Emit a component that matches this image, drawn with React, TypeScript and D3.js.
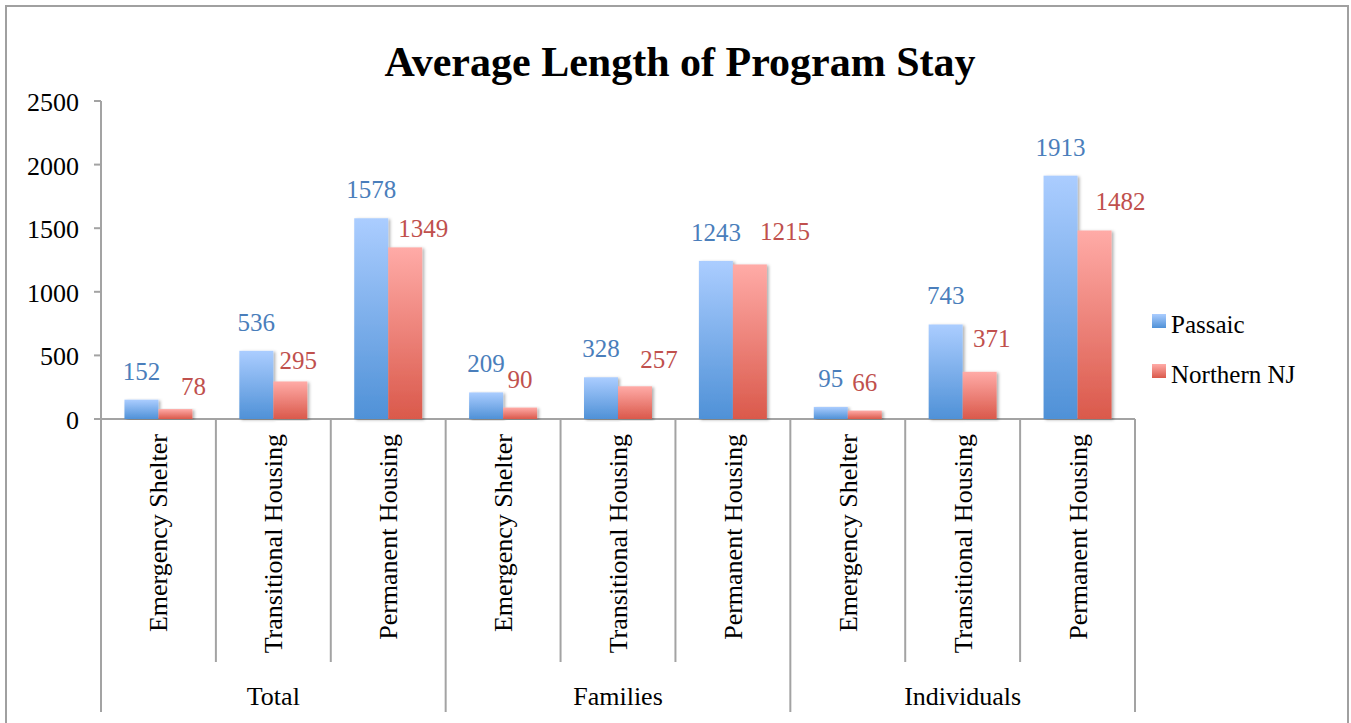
import React from "react";
import * as d3 from "d3";

const groups = ["Total", "Families", "Individuals"];
const programTypes = ["Emergency Shelter", "Transitional Housing", "Permanent Housing"];
const seriesNames = ["Passaic", "Northern NJ"];
const passaic = [152, 536, 1578, 209, 328, 1243, 95, 743, 1913];
const northernNJ = [78, 295, 1349, 90, 257, 1215, 66, 371, 1482];
const yTicks = [0, 500, 1000, 1500, 2000, 2500];

// label nudges (px) used to mimic the manually placed Northern NJ labels
const northLabelNudge: [number, number][] = [
  [18, 6], [8, 8], [18, 10], [0, 0], [24, 2], [35, -4], [0, 0], [12, -5], [26, 0],
];

const W = 1351;
const H = 723;
const FONT = "'Liberation Serif', 'Times New Roman', Times, serif";
const AXIS = "#a3a3a3";

export default function App() {
  const left = 101, right = 1135, top = 101, bottom = 419;
  const catIdx = d3.range(groups.length * programTypes.length);
  const x = d3.scaleBand<number>().domain(catIdx).range([left, right]).padding(0);
  const inner = d3
    .scaleBand<string>()
    .domain(seriesNames)
    .range([0, x.bandwidth()])
    .paddingInner(0)
    .paddingOuter(0.69);
  const y = d3.scaleLinear().domain([0, 2500]).range([bottom, top]);
  const values = [passaic, northernNJ];
  const labelColors = ["#4a7ebb", "#c0504d"];
  const grads = ["gBlue", "gRed"];
  const groupW = x.step() * programTypes.length;

  return (
    <svg
      width={W}
      height={H}
      style={{ position: "absolute", left: 0, top: 0, background: "#fff" }}
      fontFamily={FONT}
    >
      <defs>
        <linearGradient id="gBlue" x1="0" y1="0" x2="0" y2="1">
          <stop offset="0%" stopColor="#abcdff" />
          <stop offset="100%" stopColor="#4f91d7" />
        </linearGradient>
        <linearGradient id="gRed" x1="0" y1="0" x2="0" y2="1">
          <stop offset="0%" stopColor="#ffaba7" />
          <stop offset="100%" stopColor="#da594b" />
        </linearGradient>
        <filter id="shadow" x="-20%" y="-5%" width="140%" height="110%">
          <feDropShadow dx="2" dy="1" stdDeviation="1.5" floodColor="#000" floodOpacity="0.3" />
        </filter>
      </defs>
      <rect x={0} y={0} width={W} height={H} fill="#fff" />
      <rect x={6} y={6} width={1342} height={740} fill="none" stroke="#a0a0a0" strokeWidth={2} />

      <text x={680} y={76} textAnchor="middle" fontSize={42} fontWeight="bold" fill="#000">
        Average Length of Program Stay
      </text>

      {/* y axis */}
      <line x1={left} x2={left} y1={top} y2={712} stroke={AXIS} strokeWidth={2} />
      {yTicks.map((t) => (
        <g key={t}>
          <line x1={94} x2={left} y1={y(t)} y2={y(t)} stroke={AXIS} strokeWidth={2} />
          <text x={79} y={y(t) + 10} textAnchor="end" fontSize={26} fill="#000">
            {t}
          </text>
        </g>
      ))}
      {/* x axis */}
      <line x1={94} x2={right} y1={bottom} y2={bottom} stroke={AXIS} strokeWidth={2} />
      {catIdx.map((i) => {
        const bx = (x(i) as number) + x.bandwidth();
        const isGroupEnd = (i + 1) % programTypes.length === 0;
        return (
          <line
            key={"sep" + i}
            x1={bx}
            x2={bx}
            y1={bottom}
            y2={isGroupEnd ? 712 : 662}
            stroke={AXIS}
            strokeWidth={2}
          />
        );
      })}

      {/* bars */}
      {catIdx.map((i) =>
        seriesNames.map((s, si) => {
          const v = values[si][i];
          const bx = (x(i) as number) + (inner(s) as number);
          return (
            <rect
              key={s + i}
              x={bx}
              y={y(v)}
              width={inner.bandwidth()}
              height={y(0) - y(v)}
              fill={`url(#${grads[si]})`}
              filter="url(#shadow)"
            />
          );
        })
      )}

      {/* data labels */}
      {catIdx.map((i) =>
        seriesNames.map((s, si) => {
          const v = values[si][i];
          const cx = (x(i) as number) + (inner(s) as number) + inner.bandwidth() / 2;
          const [dx, dy] = si === 1 ? northLabelNudge[i] : [0, 0];
          return (
            <text
              key={"l" + s + i}
              x={cx + dx}
              y={y(v) - 20 + dy}
              textAnchor="middle"
              fontSize={25}
              fill={labelColors[si]}
            >
              {v}
            </text>
          );
        })
      )}

      {/* category labels */}
      {catIdx.map((i) => {
        const cx = (x(i) as number) + x.bandwidth() / 2;
        return (
          <text
            key={"c" + i}
            transform={`translate(${cx + 9},434) rotate(-90)`}
            textAnchor="end"
            fontSize={26}
            fill="#000"
          >
            {programTypes[i % programTypes.length]}
          </text>
        );
      })}
      {groups.map((g, gi) => (
        <text
          key={g}
          x={left + groupW * gi + groupW / 2}
          y={705}
          textAnchor="middle"
          fontSize={26}
          fill="#000"
        >
          {g}
        </text>
      ))}

      {/* legend */}
      {seriesNames.map((s, si) => (
        <g key={"lg" + s} transform={`translate(1152,${314 + si * 50})`}>
          <rect x={0} y={0} width={14} height={14} fill={`url(#${grads[si]})`} />
          <text x={19} y={19} fontSize={25} fill="#000">
            {s}
          </text>
        </g>
      ))}
    </svg>
  );
}
